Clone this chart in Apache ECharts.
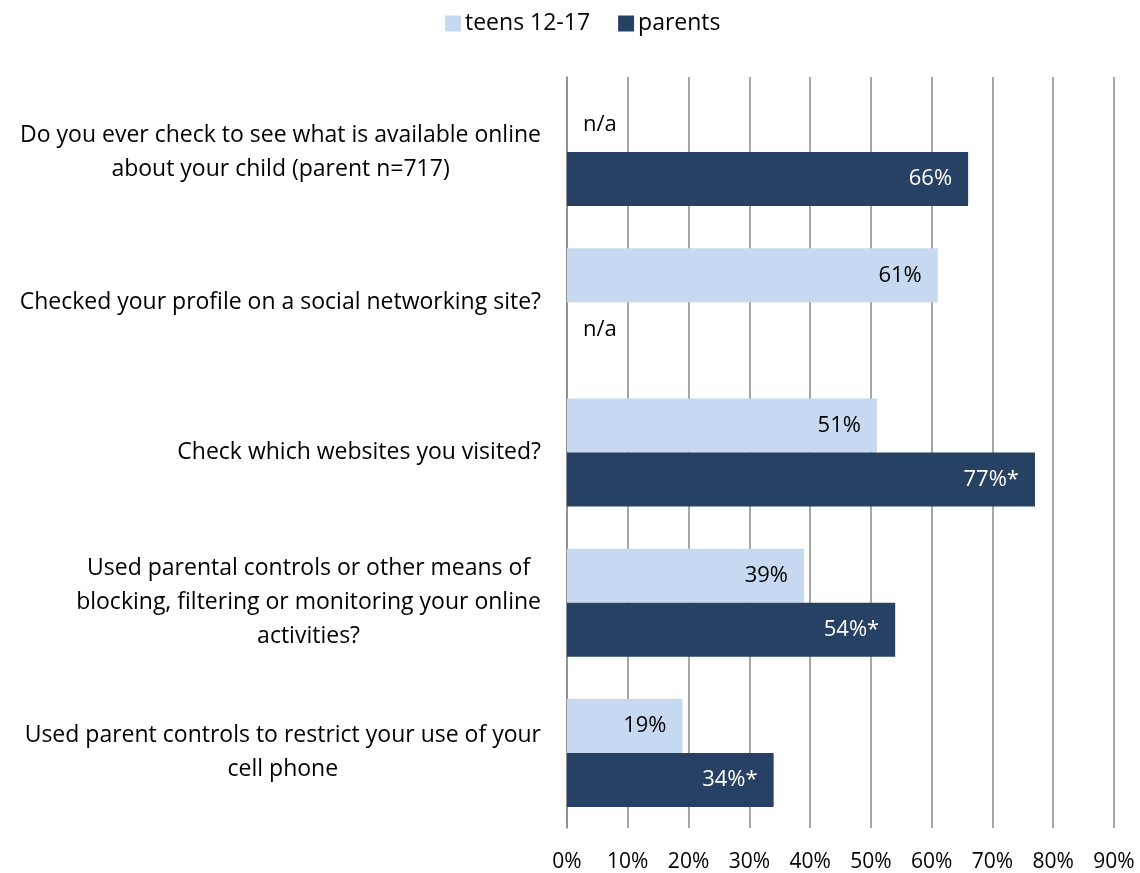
<!DOCTYPE html>
<html>
<head>
<meta charset="utf-8">
<script src="https://cdn.jsdelivr.net/npm/echarts@6/dist/echarts.min.js"></script>
<style>
  html, body { margin: 0; padding: 0; background: #fff; }
  #chart { width: 1140px; height: 873px; }
</style>
</head>
<body>
<div id="chart"></div>
<script>
// questions, top to bottom
const categories = [
  'Do you ever check to see what is available online\nabout your child (parent n=717)',
  'Checked your profile on a social networking site?',
  'Check which websites you visited?',
  'Used parental controls or other means of\nblocking, filtering or monitoring your online\nactivities?',
  'Used parent controls to restrict your use of your\ncell phone'
];
// null = not asked (n/a)
const teens = [null, 61, 51, 39, 19];
const parents = [66, null, 77, 54, 34];
// significance marks on the parent figures
const parentMarks = ['', '', '*', '*', '*'];
const ticks = [0, 10, 20, 30, 40, 50, 60, 70, 80, 90];

const FONT = 'Open Sans';

function buildData(values, marks, textColor) {
  return values.map((v, i) => {
    if (v === null) {
      return {
        value: 0,
        label: { show: true, position: 'right', distance: 16, color: '#000', formatter: 'n/a' }
      };
    }
    return {
      value: v,
      label: {
        show: true, position: 'insideRight', distance: 16, color: textColor,
        formatter: v + '%' + (marks ? marks[i] : '')
      }
    };
  });
}

const myChart = echarts.init(document.getElementById('chart'));
const option = {
  textStyle: { fontFamily: FONT },
  legend: {
    top: 7,
    left: 440,
    icon: 'rect',
    itemWidth: 16,
    itemHeight: 16,
    itemGap: 28,
    textStyle: { fontSize: 23, color: '#000', fontFamily: FONT, padding: [0, 0, 0, -1] },
    data: ['teens 12-17', 'parents']
  },
  grid: { left: 567, right: 26, top: 77, bottom: 45, containLabel: false },
  xAxis: {
    type: 'value',
    min: 0,
    max: 90,
    interval: 10,
    axisLine: { show: false },
    axisTick: { show: false },
    splitLine: { show: true, lineStyle: { color: '#8a8a8a', width: 1.5 } },
    axisLabel: {
      margin: 24,
      fontSize: 21,
      color: '#000',
      fontFamily: FONT,
      formatter: v => ticks.includes(v) ? v + '%' : ''
    }
  },
  yAxis: {
    type: 'category',
    inverse: true,
    data: categories,
    axisLine: { show: true, lineStyle: { color: '#8a8a8a', width: 1.5 } },
    axisTick: { show: false },
    axisLabel: {
      margin: 26,
      align: 'right',
      fontSize: 23,
      lineHeight: 34,
      color: '#000',
      fontFamily: FONT,
      formatter: s => s.split('\n').map(l => '{c|' + l + '}').join('\n'),
      rich: { c: { align: 'center', fontSize: 23, lineHeight: 34, color: '#000', fontFamily: FONT } }
    }
  },
  series: [
    {
      name: 'teens 12-17',
      type: 'bar',
      barWidth: 54,
      barGap: '0%',
      itemStyle: { color: '#C6D9F0' },
      label: { fontSize: 22, fontFamily: FONT },
      data: buildData(teens, null, '#000')
    },
    {
      name: 'parents',
      type: 'bar',
      barWidth: 54,
      barGap: '0%',
      itemStyle: { color: '#264163' },
      label: { fontSize: 22, fontFamily: FONT },
      data: buildData(parents, parentMarks, '#fff')
    }
  ]
};
myChart.setOption(option, true);
</script>
</body>
</html>
